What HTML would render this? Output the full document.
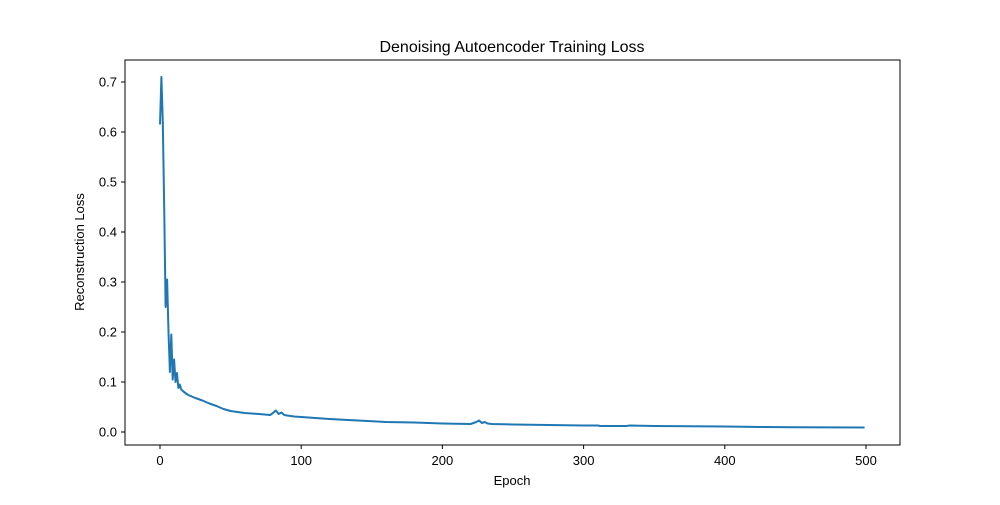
<!DOCTYPE html>
<html><head><meta charset="utf-8"><style>
body{margin:0;background:#fff;font-family:"Liberation Sans",sans-serif}
</style></head><body>
<svg width="1000" height="500" xmlns="http://www.w3.org/2000/svg" font-family="Liberation Sans, sans-serif">
<rect width="1000" height="500" fill="#fff"/>
<text x="512" y="52" text-anchor="middle" font-size="16">Denoising Autoencoder Training Loss</text>
<g id="plot"></g>
<rect x="125" y="60" width="775" height="385" fill="none" stroke="#000" stroke-width="1"/>
<g id="xt"></g><g id="yt"></g>
<text x="512" y="485" text-anchor="middle" font-size="13">Epoch</text>
<text transform="translate(84,252) rotate(-90)" text-anchor="middle" font-size="13">Reconstruction Loss</text>
</svg>
<script>
const epochs=[0,1,2,3,4,5,6,7,8,9,10,11,12,13,14,15,17,20,25,30,35,40,45,50,60,70,78,80,82,84,86,88,90,95,100,120,140,160,180,200,220,224,226,228,230,232,235,250,300,310,312,330,333,350,400,425,450,499];
const loss=[0.615,0.71,0.62,0.45,0.25,0.305,0.2,0.12,0.195,0.105,0.145,0.1,0.118,0.088,0.095,0.085,0.08,0.074,0.068,0.063,0.057,0.052,0.046,0.042,0.038,0.036,0.034,0.038,0.043,0.036,0.039,0.034,0.033,0.031,0.030,0.026,0.023,0.020,0.019,0.017,0.016,0.020,0.023,0.018,0.020,0.017,0.016,0.015,0.013,0.013,0.012,0.012,0.013,0.012,0.011,0.010,0.0095,0.009];
const xTicks=[0,100,200,300,400,500];
const yTicks=[0.0,0.1,0.2,0.3,0.4,0.5,0.6,0.7];
const X=v=>160+v*1.412, Y=v=>432-v*500;
const ns="http://www.w3.org/2000/svg";
const svg=document.querySelector('svg');
const plot=document.getElementById('plot');
const p=document.createElementNS(ns,'path');
p.setAttribute('d',epochs.map((e,i)=>(i?'L':'M')+X(e).toFixed(1)+','+Y(loss[i]).toFixed(1)).join(''));
p.setAttribute('fill','none');p.setAttribute('stroke','#1f77b4');p.setAttribute('stroke-width','2');p.setAttribute('stroke-linejoin','round');


plot.appendChild(p);
const xt=document.getElementById('xt');
xTicks.forEach(t=>{const l=document.createElementNS(ns,'line');l.setAttribute('x1',X(t));l.setAttribute('x2',X(t));l.setAttribute('y1',445);l.setAttribute('y2',449);l.setAttribute('stroke','#000');


xt.appendChild(l);const s=document.createElementNS(ns,'text');s.setAttribute('x',X(t));s.setAttribute('y',465);s.setAttribute('text-anchor','middle');s.setAttribute('font-size','13');s.textContent=t;


xt.appendChild(s);});
const yt=document.getElementById('yt');
yTicks.forEach(t=>{const l=document.createElementNS(ns,'line');l.setAttribute('x1',121);l.setAttribute('x2',125);l.setAttribute('y1',Y(t));l.setAttribute('y2',Y(t));l.setAttribute('stroke','#000');


yt.appendChild(l);const s=document.createElementNS(ns,'text');s.setAttribute('x',117);s.setAttribute('y',Y(t)+4.5);s.setAttribute('text-anchor','end');s.setAttribute('font-size','13');s.textContent=t.toFixed(1);


yt.appendChild(s);});
</script>
</body></html>
